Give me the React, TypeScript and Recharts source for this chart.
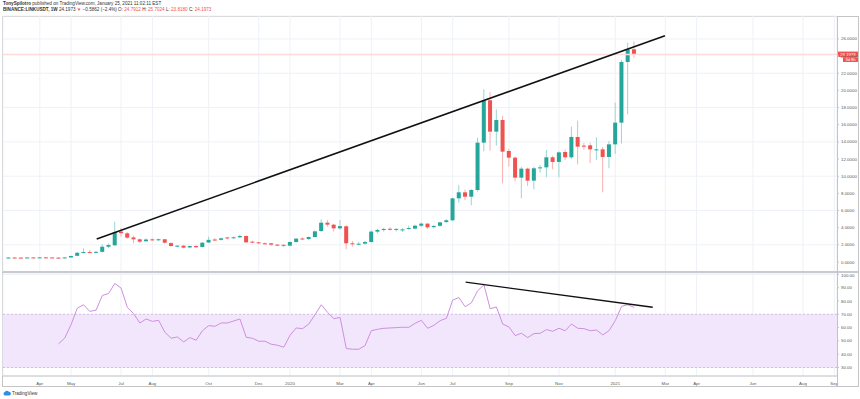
import { Bar, CartesianGrid, ComposedChart, Line, ReferenceArea, ReferenceLine, XAxis, YAxis } from "recharts";

// week index 0 = week of 6 Jan 2020, weekly candles
const firstWeek = -45;
const opens = [
  0.5, 0.52, 0.51, 0.5, 0.53, 0.52, 0.54, 0.53, 0.51, 0.49,
  0.53, 0.72, 1.07, 1.16, 1.13, 1.18, 1.78, 1.95, 3.55, 3.34,
  2.86, 2.64, 2.42, 2.64, 2.58, 2.65, 2.2, 1.86, 1.9, 1.7,
  1.86, 1.75, 2.27, 2.62, 2.58, 2.86, 2.83, 2.88, 3.03, 2.37,
  2.29, 2.18, 2.18, 2.02, 2.0, 1.9, 2.33, 2.74, 2.68, 2.91,
  3.61, 4.58, 4.35, 3.92, 4.16, 2.18, 2.1, 2.14, 2.33, 3.54,
  3.73, 3.87, 3.77, 3.79, 3.85, 3.89, 4.23, 4.47, 4.06, 4.22,
  4.66, 4.86, 7.42, 8.12, 7.61, 8.39, 13.91, 18.85, 15.19, 16.55,
  12.94, 12.16, 9.83, 10.88, 9.48, 10.92, 11.03, 12.2, 11.66, 12.82,
  12.2, 14.57, 13.56, 13.6, 13.02, 13.13, 12.24, 13.71, 16.24, 23.31,
  24.7912,
];
const highs = [
  0.56, 0.57, 0.55, 0.56, 0.58, 0.57, 0.6, 0.56, 0.55, 0.56,
  0.74, 1.18, 1.59, 1.4, 1.3, 2.1, 2.15, 4.7, 3.96, 3.5,
  3.05, 2.75, 2.75, 2.75, 2.72, 2.7, 2.3, 1.98, 1.95, 1.92,
  1.95, 2.3, 2.95, 2.8, 2.85, 2.92, 2.95, 3.2, 3.08, 2.5,
  2.35, 2.28, 2.22, 2.1, 2.05, 2.4, 2.8, 2.85, 2.98, 3.7,
  4.97, 4.9, 4.45, 4.9, 4.3, 2.45, 2.35, 2.45, 3.7, 3.9,
  4.0, 4.05, 3.95, 3.95, 4.25, 4.35, 4.6, 4.55, 4.3, 4.7,
  5.0, 7.5, 8.97, 8.45, 8.5, 14.5, 20.12, 19.81, 17.79, 17.02,
  13.2, 12.3, 11.1, 11.0, 11.1, 11.3, 13.05, 12.4, 12.9, 13.1,
  15.77, 16.47, 13.9, 13.9, 14.53, 13.4, 14.1, 18.57, 23.54, 25.56,
  25.7024,
];
const lows = [
  0.46, 0.48, 0.47, 0.47, 0.5, 0.49, 0.5, 0.48, 0.46, 0.46,
  0.52, 0.68, 1.0, 1.05, 1.02, 1.12, 1.62, 1.85, 2.95, 2.7,
  2.18, 2.2, 2.32, 2.45, 2.45, 2.15, 1.8, 1.72, 1.6, 1.62,
  1.62, 1.7, 2.2, 2.45, 2.5, 2.62, 2.72, 2.8, 2.2, 2.18,
  2.08, 2.05, 1.9, 1.85, 1.75, 1.82, 2.25, 2.55, 2.55, 2.85,
  3.5, 4.1, 3.54, 3.75, 1.48, 1.8, 1.95, 2.0, 2.28, 3.35,
  3.55, 3.65, 3.55, 3.5, 3.75, 3.8, 4.05, 3.85, 3.9, 4.1,
  4.55, 4.75, 6.9, 7.2, 6.6, 8.2, 12.9, 12.98, 13.56, 9.17,
  11.11, 9.4, 7.42, 8.86, 8.47, 10.4, 9.87, 10.8, 9.87, 11.9,
  12.0, 11.38, 13.1, 11.54, 11.89, 8.12, 10.92, 12.6, 13.8, 17.21,
  23.818,
];
const closes = [
  0.52, 0.51, 0.5, 0.53, 0.52, 0.54, 0.53, 0.51, 0.49, 0.53,
  0.7, 1.07, 1.16, 1.13, 1.18, 1.78, 1.98, 3.45, 3.36, 2.84,
  2.64, 2.37, 2.62, 2.58, 2.65, 2.25, 1.86, 1.9, 1.67, 1.86,
  1.72, 2.25, 2.58, 2.58, 2.76, 2.83, 2.88, 3.03, 2.29, 2.35,
  2.18, 2.17, 2.02, 1.99, 1.94, 2.33, 2.72, 2.7, 2.91, 3.57,
  4.58, 4.35, 3.92, 4.18, 2.18, 2.1, 2.13, 2.33, 3.54, 3.73,
  3.85, 3.83, 3.85, 3.8, 3.96, 4.23, 4.47, 4.04, 4.2, 4.62,
  4.86, 7.42, 8.12, 7.61, 8.39, 13.91, 18.8, 15.19, 16.55, 12.86,
  12.16, 9.83, 10.88, 9.48, 10.92, 11.03, 12.2, 11.66, 12.78, 12.2,
  14.57, 13.44, 13.44, 13.13, 13.13, 12.24, 13.71, 16.24, 23.31, 24.78,
  24.1973,
];

const rsiFirstWeek = -37;
const rsiValues = [
  47.75, 52.25, 62.2, 74.7, 77.2, 72.2, 73.2, 84.2, 85.7, 93.2,
  89.7, 75.2, 70.5, 63.5, 66.5, 64.7, 65.5, 56.5, 52, 53,
  49.25, 52.5, 50.5, 57.7, 61.5, 61, 63.5, 63.5, 65, 66.5,
  52.75, 52, 49.75, 49.75, 47.5, 46.75, 45.25, 54.25, 59.75, 59.2,
  62.7, 69.7, 77.2, 71.5, 66.7, 67.7, 44.25, 43.75, 43.75, 46.5,
  57.7, 58.75, 59.5, 59.75, 60, 60.25, 60.25, 63.25, 65.5, 59.5,
  61.75, 65.25, 67, 80.7, 82.7, 75.7, 78.7, 87.7, 92.2, 74.2,
  75.5, 62.7, 60.5, 54, 55.75, 52.5, 55.5, 55.75, 58.5, 57.25,
  59.5, 57.7, 62.7, 59.5, 59.2, 57.7, 58.2, 54.5, 57.7, 65.25,
  76, 77.2, 75.2,
];

const monthTicks = [-40, -35, -27, -22, -13, -5, 0, 8, 13, 21, 26, 35, 43, 52, 60, 65, 74, 82, 87];
const monthLabels = ["Apr", "May", "Jul", "Aug", "Oct", "Dec", "2020", "Mar", "Apr", "Jun", "Jul", "Sep", "Nov", "2021", "Mar", "Apr", "Jun", "Aug", "Sep"];
const priceTicks = [0, 2, 4, 6, 8, 10, 12, 14, 16, 18, 20, 22, 24, 26];
const rsiTicks = [30, 40, 50, 60, 70, 80, 90, 100];

const priceTrend = [{ x: -30.9, y: 2.68 }, { x: 59.94, y: 26.38 }];
const rsiTrend = [{ x: 28.08, y: 94.2 }, { x: 57.98, y: 75.3 }];

const UP = "#26a69a";
const DOWN = "#ef5350";
const GRID = "#eef1f6";
const FRAME = "#c4c4c4";
const FONT = "'Liberation Sans', Arial, sans-serif";
const X_DOMAIN = [-45.88, 87.44];

const candles = opens.map((open, k) => ({
  i: firstWeek + k,
  open,
  high: highs[k],
  low: lows[k],
  close: closes[k],
  range: [lows[k], highs[k]],
}));
const rsiData = rsiValues.map((rsi, k) => ({ i: rsiFirstWeek + k, rsi }));
const lastClose = closes[closes.length - 1];

function Candle(props: any) {
  const { x, y, width, height, payload } = props;
  const top = Math.min(y, y + height);
  const h = Math.abs(height);
  const span = payload.high - payload.low || 1;
  const py = (v: number) => top + ((payload.high - v) / span) * h;
  const up = payload.close >= payload.open;
  const cx = x + width / 2;
  const bodyTop = py(Math.max(payload.open, payload.close));
  const bodyH = Math.max(1, py(Math.min(payload.open, payload.close)) - bodyTop);
  return (
    <g>
      <line x1={cx} x2={cx} y1={top} y2={top + h} stroke={up ? "#9ad6cf" : "#f7b2b1"} strokeWidth={1} />
      <rect x={x} y={bodyTop} width={width} height={bodyH} fill={up ? UP : DOWN} />
    </g>
  );
}

function PriceTag(props: any) {
  const vb = props.viewBox;
  const x = vb.x + vb.width;
  const y = vb.y;
  return (
    <g fontFamily={FONT}>
      <rect x={x + 1} y={y - 2.8} width={20} height={5.4} fill={DOWN} />
      <text x={x + 11} y={y + 1.5} fontSize={4.3} fill="#fff" textAnchor="middle">{lastClose.toFixed(4)}</text>
      <rect x={x + 6} y={y + 3} width={15} height={4.6} fill={DOWN} />
      <text x={x + 13.5} y={y + 6.6} fontSize={4} fill="#fff" textAnchor="middle">3d 8h</text>
    </g>
  );
}

const tickStyle = { fontSize: 4.4, fill: "#5a5a5a", fontFamily: FONT };

export default function App() {
  return (
    <div style={{ position: "absolute", left: 0, top: 0, width: 860, height: 399, background: "#fff", fontFamily: FONT, overflow: "hidden" }}>
      <div style={{ position: "absolute", left: 3, top: 1, fontSize: 4.6, lineHeight: "6.2px", color: "#333", whiteSpace: "nowrap" }}>
        <div><b>TonySpilotro</b> published on TradingView.com, January 25, 2021 11:02:11 EST</div>
        <div>
          <b>BINANCE:LINKUSDT, 1W</b> 24.1973 <span style={{ color: DOWN }}>▼</span> −0.5862 (−2.4%) O: <span style={{ color: DOWN }}>24.7912</span> H: <span style={{ color: DOWN }}>25.7024</span> L: <span style={{ color: DOWN }}>23.8180</span> C: <span style={{ color: DOWN }}>24.1973</span>
        </div>
      </div>

      <div style={{ position: "absolute", left: 2, top: 16, width: 855, height: 369, border: `1px solid ${FRAME}` }} />

      <div style={{ position: "absolute", left: 0, top: 0 }}>
        <ComposedChart width={860} height={273} data={candles} margin={{ top: 16, right: 0, bottom: 1, left: 3 }}>
          <CartesianGrid stroke={GRID} />
          <XAxis dataKey="i" type="number" domain={X_DOMAIN} ticks={monthTicks} allowDataOverflow hide />
          <YAxis
            orientation="right"
            width={23}
            domain={[-1.166, 28.67]}
            ticks={priceTicks}
            allowDataOverflow
            axisLine={false}
            tickSize={2}
            tickMargin={2}
            tickLine={{ stroke: FRAME }}
            tick={tickStyle}
            tickFormatter={(v: number) => v.toFixed(4)}
          />
          <ReferenceLine y={lastClose} stroke="#fbdcdb" strokeWidth={1.5} label={<PriceTag />} />
          <Bar dataKey="range" barSize={4} shape={<Candle />} isAnimationActive={false} />
          <ReferenceLine segment={priceTrend} stroke="#111" strokeWidth={1.6} ifOverflow="visible" />
        </ComposedChart>
      </div>

      <div style={{ position: "absolute", left: 2.5, top: 271, width: 855, height: 2, background: "#c8cad0" }} />

      <div style={{ position: "absolute", left: 0, top: 273 }}>
        <ComposedChart width={860} height={114} data={rsiData} margin={{ top: 0, right: 0, bottom: 0, left: 3 }}>
          <CartesianGrid stroke={GRID} />
          <ReferenceArea y1={30} y2={70} fill="#f2e6fc" fillOpacity={1} stroke="none" />
          <ReferenceLine y={70} stroke="#d2bde2" strokeDasharray="2 2" />
          <ReferenceLine y={30} stroke="#d2bde2" strokeDasharray="2 2" />
          <XAxis
            dataKey="i"
            type="number"
            domain={X_DOMAIN}
            ticks={monthTicks}
            allowDataOverflow
            height={11}
            tickLine={false}
            axisLine={{ stroke: FRAME }}
            tick={tickStyle}
            tickMargin={0}
            tickFormatter={(v: number) => monthLabels[monthTicks.indexOf(v)] ?? ""}
          />
          <YAxis
            orientation="right"
            width={23}
            domain={[23.6, 101.1]}
            ticks={rsiTicks}
            allowDataOverflow
            axisLine={false}
            tickSize={2}
            tickMargin={2}
            tickLine={{ stroke: FRAME }}
            tick={tickStyle}
            tickFormatter={(v: number) => v.toFixed(2)}
          />
          <Line dataKey="rsi" stroke="#cf8fde" strokeWidth={1} dot={false} isAnimationActive={false} />
          <ReferenceLine segment={rsiTrend} stroke="#111" strokeWidth={1.4} ifOverflow="visible" />
        </ComposedChart>
      </div>

      <div style={{ position: "absolute", left: 837, top: 16, width: 1, height: 370, background: FRAME }} />

      <div style={{ position: "absolute", left: 3, top: 390, display: "flex", alignItems: "center", fontSize: 4.6, color: "#333" }}>
        <svg width={8} height={6} viewBox="0 0 16 12">
          <path d="M4 11 A3.5 3.5 0 0 1 3.5 4.2 A4.5 4.5 0 0 1 11.5 3.5 A3.7 3.7 0 0 1 12.5 11 Z" fill="#2e8fe8" />
        </svg>
        <span style={{ marginLeft: 1 }}>TradingView</span>
      </div>
    </div>
  );
}
